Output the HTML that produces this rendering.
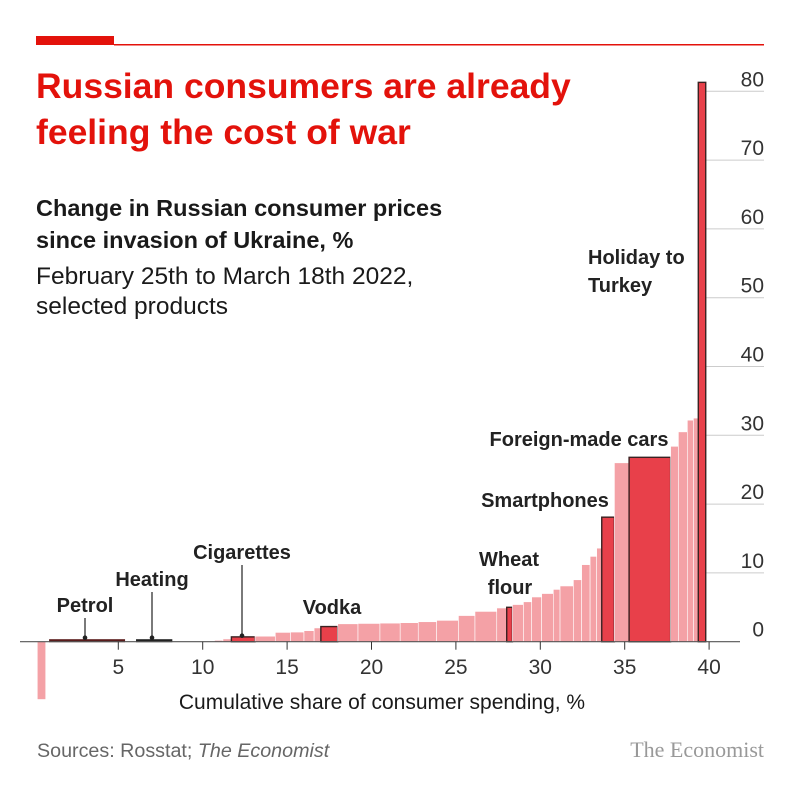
<!DOCTYPE html>
<html><head><meta charset="utf-8"><style>
body{margin:0;background:#fff;}
svg text{font-family:"Liberation Sans",sans-serif;}
</style></head><body>
<svg width="800" height="800" viewBox="0 0 800 800">
<rect x="0" y="0" width="800" height="800" fill="#fff"/>
<rect x="36" y="36" width="78" height="9" fill="#e3120b"/>
<rect x="114" y="44" width="650" height="1.5" fill="#e3120b"/>
<text x="36" y="98" font-size="35.5" font-weight="bold" fill="#e3120b">Russian consumers are already</text>
<text x="36" y="144" font-size="35.5" font-weight="bold" fill="#e3120b">feeling the cost of war</text>
<text x="36" y="216" font-size="23.5" font-weight="bold" fill="#1a1a1a">Change in Russian consumer prices</text>
<text x="36" y="248" font-size="23.5" font-weight="bold" fill="#1a1a1a">since invasion of Ukraine, %</text>
<text x="36" y="284" font-size="24.5" fill="#1a1a1a">February 25th to March 18th 2022,</text>
<text x="36" y="314" font-size="24.5" fill="#1a1a1a">selected products</text>
<g id="grid"></g>
<g id="bars"></g>
<g id="axis"></g>
<g id="labels"></g>
<text x="382" y="709" font-size="21" text-anchor="middle" fill="#1a1a1a">Cumulative share of consumer spending, %</text>
<text x="37" y="757" font-size="19.7" fill="#666">Sources: Rosstat; <tspan font-style="italic">The Economist</tspan></text>
<text x="764" y="757" font-size="22" text-anchor="end" fill="#999" style="font-family:'Liberation Serif',serif">The Economist</text>
</svg>
<script>
const startShare = 0.2;
const widths = [0.5,0.2,4.5,0.65,2.15,2.5,0.5,0.5,1.4,1.2,0.9,0.8,0.6,0.4,1.0,1.2,1.3,1.2,1.07,1.09,1.29,0.98,1.29,0.59,0.34,0.65,0.49,0.59,0.69,0.4,0.79,0.49,0.5,0.39,0.3,0.75,0.87,2.46,0.46,0.53,0.36,0.29,0.44];
const values = [-8.4,0,0.3,0,0.2,0,0.2,0.4,0.7,0.8,1.35,1.4,1.6,2.0,2.2,2.6,2.65,2.7,2.76,2.9,3.1,3.8,4.4,4.9,5.0,5.4,5.8,6.5,7.0,7.6,8.1,9.0,11.2,12.4,13.6,18.1,26.0,26.8,28.4,30.5,32.2,32.5,81.3];
const kinds = ["p","g","petrol","g","heating","g","p","p","h","p","p","p","p","p","h","p","p","p","p","p","p","p","p","p","h","p","p","p","p","p","p","p","p","p","p","h","p","h","p","p","p","p","h"];
const xTicks = [5,10,15,20,25,30,35,40];
const yTicks = [0,10,20,30,40,50,60,70,80];
const NS="http://www.w3.org/2000/svg";
const X0=33.9, XS=16.88, Y0=641.7, YS=6.88;
const xs=v=>X0+v*XS, ys=v=>Y0-v*YS;
function mk(t,a,p){const e=document.createElementNS(NS,t);for(const k in a)e.setAttribute(k,a[k]);p.appendChild(e);return e;}
const grid=document.getElementById('grid'),bars=document.getElementById('bars'),axis=document.getElementById('axis');
yTicks.forEach(t=>{
  if(t>0){const l=mk('line',{x1:706,x2:764,y1:ys(t),y2:ys(t),stroke:'#ccc','stroke-width':1},grid);
  
  }
  const tx=mk('text',{x:764,y:ys(t)-5,'font-size':21,'text-anchor':'end',fill:'#333'},grid);
  tx.textContent=t;
  
  
});
let cum=startShare;
widths.forEach((w,i)=>{
  const v=values[i],k=kinds[i],x1=xs(cum),x2=xs(cum+w);cum+=w;
  if(k==='g')return;
  let r;
  if(k==='petrol'||k==='heating'){
    r=mk('rect',{x:x1,y:Y0-2.5,width:x2-x1,height:3,fill:k==='petrol'?'#5a1c1c':'#222'},bars);
  }else{
    const top=Math.min(ys(v),Y0),h=Math.abs(ys(v)-Y0);
    if(k==='h') r=mk('rect',{x:x1,y:top,width:x2-x1,height:Math.max(h,3),fill:'#e8404a',stroke:'#3a2222','stroke-width':1.4},bars);
    else r=mk('rect',{x:x1,y:top,width:x2-x1,height:h,fill:'#f4a1a6',stroke:'#fff','stroke-width':0.6},bars);
  }
  
  
});
const base=mk('line',{x1:20,x2:740,y1:Y0,y2:Y0,stroke:'#555','stroke-width':1.2},axis);


xTicks.forEach(t=>{
  const l=mk('line',{x1:xs(t),x2:xs(t),y1:Y0,y2:Y0+8,stroke:'#333','stroke-width':1},axis);
  
  
  const tx=mk('text',{x:xs(t),y:674,'font-size':21,'text-anchor':'middle',fill:'#333'},axis);
  tx.textContent=t;
  
  
});
const labs=document.getElementById('labels');
const annot=[["Petrol",85,612,true,"label-petrol"],["Heating",152,586,true,"label-heating"],["Cigarettes",242,559,true,"label-cigarettes"],["Vodka",332,614,false,"label-vodka"],["Wheat",509,566,false,"label-wheat"],["flour",510,594,false,"label-flour"],["Smartphones",545,507,false,"label-smartphones"],["Foreign-made cars",579,446,false,"label-foreign-cars"]];
annot.forEach(a=>{
  const t=mk('text',{x:a[1],y:a[2],'font-size':20,'font-weight':'bold','text-anchor':'middle',fill:'#222'},labs);
  t.textContent=a[0];
  
  
  if(a[3]){
    const top=a[2]+6,bot=a[0]==="Cigarettes"?Y0-6:Y0-4;
    const l=mk('line',{x1:a[1],x2:a[1],y1:top,y2:bot,stroke:'#222','stroke-width':1.2},labs);
    
    
    const c=mk('circle',{cx:a[1],cy:bot,r:2.3,fill:'#222'},labs);
    
    
  }
});
const hl=[["Holiday to",264,"label-holiday"],["Turkey",292,"label-turkey"]];
hl.forEach(a=>{
  const t=mk('text',{x:588,y:a[1],'font-size':20,'font-weight':'bold',fill:'#222'},labs);
  t.textContent=a[0];
  
  
});
</script>
</body></html>
